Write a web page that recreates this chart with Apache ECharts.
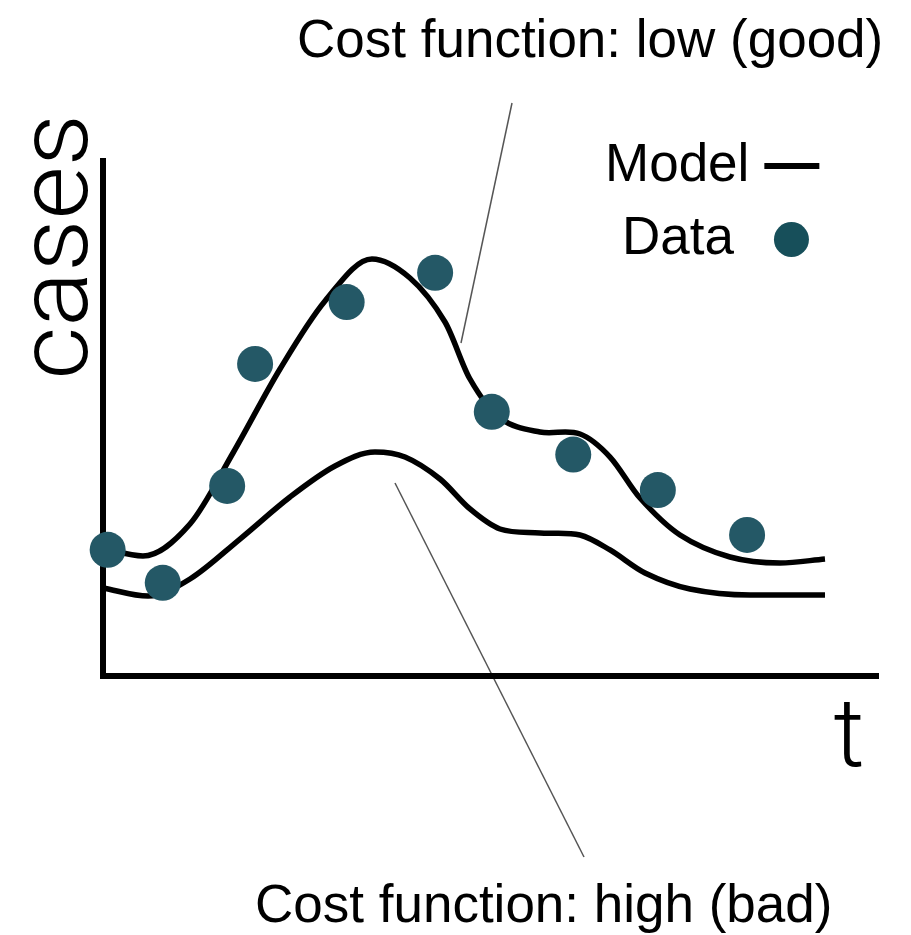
<!DOCTYPE html>
<html>
<head>
<meta charset="utf-8">
<title>Cost function</title>
<script src="https://cdn.jsdelivr.net/npm/echarts@6/dist/echarts.min.js"></script>
<style>
  html, body { margin: 0; padding: 0; background: #fff; }
  #chart { width: 911px; height: 935px; }
</style>
</head>
<body>
<div id="chart"></div>
<script>
// Model curve with a low cost (fits the observations)
const lowCostT = [0, 5.15, 11.21, 16.75, 22.81, 28.61, 34.66, 39.56, 44.07, 47.29, 51.16, 56.31, 61.47, 65.34, 69.2, 74.36, 80.8, 87.24, 93.04];
const lowCostCases = [24.85, 23.3, 29.51, 43.3, 59.61, 72.82, 80.97, 77.28, 68.74, 57.67, 50.1, 47.38, 46.99, 42.52, 34.56, 27.38, 23.11, 21.94, 22.72];

// Model curve with a high cost (too low everywhere)
const highCostT = [0, 5.8, 11.21, 17.65, 24.1, 29.9, 35.05, 38.92, 43.43, 47.29, 51.16, 56.31, 61.47, 65.34, 69.85, 75.64, 83.38, 93.04];
const highCostCases = [17.09, 15.53, 18.83, 26.6, 34.76, 40.78, 43.5, 42.52, 38.25, 32.43, 28.54, 27.77, 27.38, 24.47, 20.0, 16.89, 15.73, 15.73];

// Observed cases
const dataT = [0.6, 7.7, 16.0, 19.6, 31.4, 42.8, 50.1, 60.6, 71.5, 83.0];
const dataCases = [24.5, 18.1, 36.9, 60.6, 72.6, 78.3, 51.3, 43.0, 36.1, 27.4];

// Texts
const titleGood = 'Cost function: low (good)';
const titleBad = 'Cost function: high (bad)';
const yName = 'cases';
const xName = 't';
const legendModel = 'Model';
const legendData = 'Data';

const zip = (xs, ys) => xs.map((x, i) => [x, ys[i]]);

const FONT = '"Liberation Sans", Arial, Helvetica, sans-serif';
const LABEL_FONT = 'Roboto, "Liberation Sans", Arial, sans-serif';
const DOT = '#245866';

// Cubic Hermite path through pixel points (x increasing); tangents are the
// averaged neighbouring slopes, flattened at local extrema.
function hermitePath(pts) {
  const n = pts.length;
  const d = [];
  for (let i = 0; i < n - 1; i++) {
    d.push((pts[i + 1][1] - pts[i][1]) / (pts[i + 1][0] - pts[i][0]));
  }
  const m = pts.map((p, i) => {
    if (i === 0) return d[0];
    if (i === n - 1) return d[n - 2];
    if (d[i - 1] * d[i] <= 0) return 0;
    return (pts[i + 1][1] - pts[i - 1][1]) / (pts[i + 1][0] - pts[i - 1][0]);
  });
  let path = 'M' + pts[0][0] + ' ' + pts[0][1];
  for (let i = 0; i < n - 1; i++) {
    const h = pts[i + 1][0] - pts[i][0];
    const c1x = pts[i][0] + h / 3, c1y = pts[i][1] + m[i] * h / 3;
    const c2x = pts[i + 1][0] - h / 3, c2y = pts[i + 1][1] - m[i + 1] * h / 3;
    path += ' C' + c1x + ' ' + c1y + ' ' + c2x + ' ' + c2y + ' ' + pts[i + 1][0] + ' ' + pts[i + 1][1];
  }
  return path;
}

function curveSeries(name, ts, vs) {
  return {
    name: name, type: 'custom', data: zip(ts, vs), z: 2, clip: false,
    itemStyle: { color: '#000' },
    renderItem: function (params, api) {
      if (params.dataIndex !== 0) return null;
      const pts = ts.map((t, i) => api.coord([t, vs[i]]));
      return {
        type: 'path',
        shape: { pathData: hermitePath(pts) },
        style: { stroke: '#000', lineWidth: 5.5, fill: null, lineJoin: 'round' }
      };
    }
  };
}

const chart = echarts.init(document.getElementById('chart'), null, { renderer: 'canvas' });

chart.setOption({
  backgroundColor: '#fff',
  animation: false,
  title: [
    {
      text: titleGood, left: 297, top: 16, padding: 0,
      textStyle: { fontFamily: FONT, fontSize: 53, fontWeight: 'normal', color: '#000' }
    },
    {
      text: titleBad, left: 255, top: 881, padding: 0,
      textStyle: { fontFamily: FONT, fontSize: 53, fontWeight: 'normal', color: '#000' }
    }
  ],
  legend: [
    {
      data: [legendModel], left: 605, top: 139.5, padding: 0,
      orient: 'vertical', align: 'right', selectedMode: false,
      icon: 'rect', itemWidth: 55, itemHeight: 6,
      itemStyle: { color: '#000', opacity: 1 },
      textStyle: { fontFamily: FONT, fontSize: 53, color: '#000', padding: [0, 10, 10, 0] }
    },
    {
      data: [legendData], left: 622, top: 213, padding: 0,
      orient: 'vertical', align: 'right', selectedMode: false,
      icon: 'circle', itemWidth: 35, itemHeight: 35,
      itemStyle: { color: '#174f5a', opacity: 1 },
      textStyle: { fontFamily: FONT, fontSize: 53, color: '#000', padding: [0, 35, 11, 0] }
    }
  ],
  grid: { left: 103, right: 32, top: 161, bottom: 259, containLabel: false },
  xAxis: {
    type: 'value', min: 0, max: 100,
    axisLine: { show: true, onZero: false, lineStyle: { color: '#000', width: 6, cap: 'butt' } },
    axisTick: { show: false }, axisLabel: { show: false }, splitLine: { show: false }
  },
  yAxis: {
    type: 'value', min: 0, max: 100,
    axisLine: { show: true, onZero: false, lineStyle: { color: '#000', width: 6, cap: 'square' } },
    axisTick: { show: false }, axisLabel: { show: false }, splitLine: { show: false }
  },
  series: [
    curveSeries(legendModel, lowCostT, lowCostCases),
    curveSeries(legendModel, highCostT, highCostCases),
    {
      name: legendData, type: 'scatter', data: zip(dataT, dataCases),
      symbolSize: 36, z: 3, clip: false,
      itemStyle: { color: DOT, opacity: 1 }
    }
  ],
  graphic: [
    // axis names
    {
      type: 'text', x: 111, y: 247, rotation: Math.PI / 2, scaleX: 1.05,
      style: { text: yName, font: '300 98px ' + LABEL_FONT, fill: '#000', textAlign: 'center', textVerticalAlign: 'bottom' }
    },
    {
      type: 'text', x: 849, y: 790,
      style: { text: xName, font: '300 97px ' + LABEL_FONT, fill: '#000', textAlign: 'center', textVerticalAlign: 'bottom' }
    },
    // leader lines to the two model curves
    {
      type: 'line', shape: { x1: 512, y1: 103, x2: 461, y2: 343 },
      style: { stroke: '#555', lineWidth: 1.5 }
    },
    {
      type: 'line', shape: { x1: 395, y1: 483, x2: 584, y2: 857 },
      style: { stroke: '#555', lineWidth: 1.5 }
    }
  ]
});
</script>
</body>
</html>
